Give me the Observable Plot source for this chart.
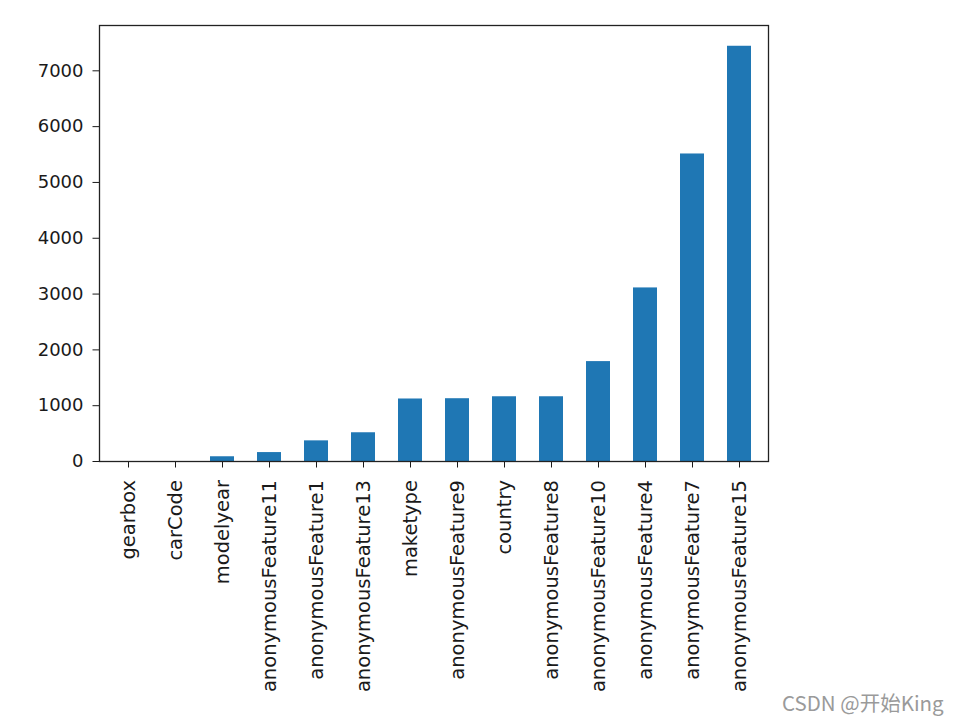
<!DOCTYPE html>
<html>
<head>
<meta charset="utf-8">
<script src="https://cdn.jsdelivr.net/npm/d3@7"></script>
<script src="https://cdn.jsdelivr.net/npm/@observablehq/plot@0.6"></script>
<style>
  html, body { margin: 0; padding: 0; background: #fff; }
  #wrap { position: relative; width: 960px; height: 722px; }
  #mark { position: absolute; left: 782px; top: 690px; font-family: "Noto Sans CJK SC", "Noto Sans", sans-serif; font-size: 20.5px; line-height: 1.2; color: #9a9a9a; }
</style>
</head>
<body>
<div id="wrap"><div id="mark">CSDN @开始King</div></div>
<script>
const categories = ["gearbox","carCode","modelyear","anonymousFeature11","anonymousFeature1","anonymousFeature13","maketype","anonymousFeature9","country","anonymousFeature8","anonymousFeature10","anonymousFeature4","anonymousFeature7","anonymousFeature15"];
const values = [0, 0, 85, 160, 370, 515, 1120, 1125, 1160, 1160, 1790, 3110, 5510, 7440];
const yTicks = [0, 1000, 2000, 3000, 4000, 5000, 6000, 7000];

const data = categories.map((c, i) => ({name: c, value: values[i]}));

const chart = Plot.plot({
  width: 960,
  height: 722,
  marginLeft: 99,
  marginRight: 192,
  marginTop: 25,
  marginBottom: 261,
  style: {fontFamily: "DejaVu Sans", fontSize: "18px", color: "#1a1a1a", background: "#fff"},
  x: {domain: categories, paddingInner: 0.5, paddingOuter: 0.25, label: null},
  y: {domain: [0, 7440 * 1.05], label: null},
  marks: [
    Plot.barY(data, {x: "name", y: "value", fill: "#1f77b4"}),
    Plot.axisY({ticks: yTicks, tickFormat: d => String(d), tickSize: 6.5, tickPadding: 9.5, fontSize: 18, label: null}),
    Plot.axisX({tickSize: 6.5, tickPadding: 12, tickRotate: -90, fontSize: 19.5, label: null}),
    Plot.frame({stroke: "#222", strokeWidth: 1.3})
  ]
});
document.getElementById("wrap").prepend(chart);
</script>
</body>
</html>
